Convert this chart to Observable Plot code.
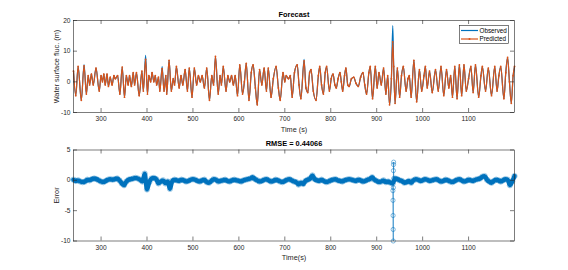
<!DOCTYPE html>
<html><head><meta charset="utf-8">
<script src="https://cdn.jsdelivr.net/npm/d3@7"></script>
<script src="https://cdn.jsdelivr.net/npm/@observablehq/plot@0.6"></script>
<style>
body{margin:0;background:#fff;}
#wrap{position:relative;width:568px;height:270px;font-family:"Liberation Sans",Arial,sans-serif;}
#wrap > svg{display:block;}
#legend{position:absolute;left:459px;top:25px;}
</style></head><body><div id="wrap"></div>
<script>
// ---------- data ----------
const xTicks = [300,400,500,600,700,800,900,1000,1100];
const yTicksTop = [-10,0,10,20];
const yTicksBottom = [-10,-5,0,5];

// water surface fluctuation, read at turning points (s, m)
const waveTime = [
240,245,250,257,263,268,272,275,279,283,
289,296,300,303,306,309,313,316,320,324,
328,331,336,341,346,351,355,359,362,366,
370,373,377,383,389,392,397,401,404,408,
411,415,418,421,425,428,433,437,441,443,
448,453,457,460,464,470,474,478,483,488,
492,498,503,508,512,516,520,525,530,536,
541,545,549,555,559,562,566,572,576,580,
584,588,592,597,602,608,612,616,622,627,
631,636,640,645,650,655,660,664,670,675,
681,686,690,696,700,703,708,712,716,721,
727,731,735,742,746,750,754,757,762,768,
773,776,780,784,788,791,797,801,805,809,
812,816,820,823,826,830,833,837,840,845,
850,855,860,865,870,874,878,883,886,891,
897,901,905,910,915,920,924,928,932,935,
937,940,945,950,954,958,964,968,971,975,
981,987,993,998,1003,1006,1010,1015,1021,1028,
1034,1040,1046,1052,1057,1061,1065,1070,1075,1080,
1085,1090,1095,1100,1105,1110,1115,1122,1127,1130,
1137,1143,1150,1157,1162,1166,1170,1177,1181,1185,
1189,1193,1197,1200];
const predicted = [
3.5,-4.5,5,-6,5.2,-4,2,-1,2.5,-1,
4.5,-3,2,0,2.5,-1,2.5,-1.5,1.5,-1,
2,1,2,-4,4.8,-5,2,-1,2,-1.5,
3,-1,3,-4.5,3.5,-3,7.3,-4,2,0,
3,0,2,-1,1.5,-3,4.3,-3,2,-4,
7,-3,1,-1,5,-2,2,-1,4,-3,
4.5,-5,4.5,-1,2,0,2,-2,4.5,-6,
2,-1,8.3,-4,2,-1,5,-3,2,0,
2,-1,2,-4.5,5.5,-4,0,6,-6,3,
5.5,-2,-7.5,4,-1,4.5,-3,4.5,-5,1,
5,-2,-6,3,0,2,1,2,-5,3,
5.5,-1,-5.5,6.8,-2,-3.5,3,4,-3,-6,
2,5,-1,-4,3,5,-3,1,2.5,-1,
-2,1,3,0,-3,2,4.5,-1,-1.5,1,
1.5,-0.5,-1.5,1.5,3,-1,-4,3,5,-5.5,
5,-2,3,-1,4.5,-4,2,-7.5,1,13,
5,-7,4.5,-5,2,5,-3,1,2,-5,
7,-6.5,4,-3,2,5,-2,3.5,-3.5,4,
-3,5,-4.5,4,-2,2,-5,5,-5.5,5.5,
-4.5,5.5,-3,1,5,-3.5,5.5,-5,2,5,
-3,4.5,-4.5,5,-3,2,5,-5.5,3,8,
0,-7,2,5];
// observed differs from predicted only at these peaks
const observedPeakTime = [263,397,433,742,935];
const observedPeakValue = [5.6,8.6,5.0,7.3,18.3];

// error, one reading every 5 s from 240 s
const errStart = 240, errStep = 5;
const errorValues = [
0.1,-0.1,0,-0.2,-0.3,-0.2,0.1,0,0.2,0.3,
0.2,0,-0.2,-0.3,-0.1,0.1,0.2,0.1,0.2,0.3,
0,-0.5,-0.8,-0.2,0.1,0.2,0.3,0.4,0.3,0.1,
-0.2,1.1,-1.5,-0.3,0.3,0.4,0.2,-0.5,-0.2,0,
-0.5,-0.2,-1.4,-0.1,0.1,0,-0.1,0.1,0,-0.2,
-0.1,0.1,0.2,0.1,-0.1,-0.2,0,0.1,-0.3,-0.4,
-0.1,0.2,0.1,-0.2,-0.1,0,0.1,-0.1,-0.2,0,
0.1,0,-0.1,-0.2,0,0.1,0.2,0.3,0.5,0.2,
0,-0.2,-0.1,0.1,0.2,0,-0.2,-0.1,0.1,0,
-0.2,-0.3,-0.1,0.1,0.2,0,-0.2,-0.3,-0.7,-0.4,
-0.6,-0.1,0.1,0.3,0.8,0.2,0,-0.1,0.1,-0.1,
-0.3,-0.2,0,0.1,0.2,0,-0.1,-0.2,0,0.1,
0.2,0.1,0,-0.1,0.1,0,-0.2,-0.1,0.1,0.2,
0.5,0.1,-0.1,-0.3,-0.2,0,-0.3,-0.2,-0.4,-0.5,
0.3,0.2,0,-0.1,-0.4,-0.3,-0.1,-0.4,0,0.2,
0.1,-0.1,0,0.2,0.1,-0.1,0,0.1,0.2,0,
-0.2,-0.1,0.1,0,-0.2,-0.3,-0.1,0.1,0.2,0,
-0.2,-0.1,0.1,0,-0.1,0.1,0.2,0.3,0.6,0.7,
0.1,-0.2,-0.4,-0.1,0.1,0,-0.2,0,0.2,0.1,
-0.8,-0.2,0.7];
// error spike samples near 936 s
const spikeTime = [935.3,935.5,935.7,935.9,936.1,936.3,936.5,936.7,936.9,937.1];
const spikeError = [-1.7,-3.3,-5.8,-8.1,-10,-1.2,1.6,2.6,3.0,0.3];

// ---------- build ----------
const BLUE = "#0072BD", ORANGE = "#D95319", INK = "#262626";
const font = '"Liberation Sans", Arial, sans-serif';
const W = 568, H = 135, ML = 73, MR = 54;
const fw = W - ML - MR;

const pred = waveTime.map((t, i) => ({t, v: predicted[i]}));
const obs = waveTime.map((t, i) => {
  const k = observedPeakTime.indexOf(t);
  return {t, v: k >= 0 ? observedPeakValue[k] : predicted[i]};
});
const errGrid = errorValues.map((e, i) => ({t: errStart + i * errStep, e}));
const err = errGrid
  .concat(spikeTime.map((t, i) => ({t, e: spikeError[i]})))
  .sort((a, b) => a.t - b.t);

function frameMarks(fh, yTicks, title, xLabel, yLabel) {
  return [
    Plot.frame({stroke: INK, strokeWidth: 0.6}),
    Plot.tickX(xTicks, {x: d => d, insetTop: fh - 4, stroke: INK, strokeWidth: 0.6}),
    Plot.tickX(xTicks, {x: d => d, insetBottom: fh - 4, stroke: INK, strokeWidth: 0.6}),
    Plot.tickY(yTicks, {y: d => d, insetRight: fw - 4, stroke: INK, strokeWidth: 0.6}),
    Plot.tickY(yTicks, {y: d => d, insetLeft: fw - 4, stroke: INK, strokeWidth: 0.6}),
    Plot.axisX({ticks: xTicks, tickSize: 0, tickPadding: 4, tickFormat: d => String(d), label: null, fontSize: 6.6, fill: INK}),
    Plot.axisY({ticks: yTicks, tickSize: 0, tickPadding: 3, tickFormat: d => String(d), label: null, fontSize: 6.6, fill: INK}),
    Plot.text([title], {frameAnchor: "top", lineAnchor: "middle", dy: -6, fontWeight: "bold", fontSize: 7.4, fill: "#000"}),
    Plot.text([xLabel], {frameAnchor: "bottom", lineAnchor: "middle", dy: 17, fontSize: 7.3, fill: INK}),
    Plot.text([yLabel], {frameAnchor: "left", textAnchor: "middle", lineAnchor: "middle", dx: -17, rotate: -90, fontSize: 7.3, fill: INK})
  ];
}

const upperChart = Plot.plot({
  width: W, height: H,
  marginTop: 20, marginBottom: 23, marginLeft: ML, marginRight: MR,
  style: {fontFamily: font, background: "transparent", overflow: "visible", color: INK},
  x: {domain: [240, 1200]},
  y: {domain: [-10, 20]},
  marks: [
    Plot.line(obs, {x: "t", y: "v", stroke: BLUE, strokeWidth: 1.2, curve: "monotone-x"}),
    Plot.line(pred, {x: "t", y: "v", stroke: ORANGE, strokeWidth: 1.2, curve: "monotone-x"}),
    Plot.dot(pred, {x: "t", y: "v", r: 0.9, fill: ORANGE}),
    ...frameMarks(92, yTicksTop, "Forecast", "Time (s)", "Water surface fluc. (m)")
  ]
});

const lowerChart = Plot.plot({
  width: W, height: H,
  marginTop: 14.5, marginBottom: 29.5, marginLeft: ML, marginRight: MR,
  style: {fontFamily: font, background: "transparent", overflow: "visible", color: INK},
  x: {domain: [240, 1200]},
  y: {domain: [-10, 5]},
  marks: [
    // dense overlapping markers of the reference read as a solid band
    Plot.dot(errGrid, {x: "t", y: "e", r: 2.7, stroke: BLUE, strokeWidth: 0.6, fill: "none", strokeOpacity: 0.6}),
    Plot.line(errGrid, {x: "t", y: "e", stroke: BLUE, strokeWidth: 4.4, curve: "monotone-x"}),
    Plot.line(err, {x: "t", y: "e", stroke: BLUE, strokeWidth: 0.8, strokeOpacity: 0.7}),
    Plot.dot(spikeTime.map((t, i) => ({t, e: spikeError[i]})), {x: "t", y: "e", r: 2.1, stroke: BLUE, strokeWidth: 0.7, fill: "none", strokeOpacity: 0.7}),
    ...frameMarks(91, yTicksBottom, "RMSE = 0.44066", "Time(s)", "Error")
  ]
});

const wrap = document.getElementById("wrap");
wrap.appendChild(upperChart);
wrap.appendChild(lowerChart);

// legend box (inside the upper axes)
const lg = d3.select(wrap).append("svg").attr("id", "legend")
  .attr("width", 50).attr("height", 19);
lg.append("rect").attr("x", 0.5).attr("y", 0.5).attr("width", 49).attr("height", 18)
  .attr("fill", "#fff").attr("stroke", INK).attr("stroke-width", 0.6);
const items = [{name: "Observed", c: BLUE, dot: false}, {name: "Predicted", c: ORANGE, dot: true}];
items.forEach((it, i) => {
  const y = 5.5 + i * 8.5;
  lg.append("line").attr("x1", 2).attr("x2", 19).attr("y1", y).attr("y2", y)
    .attr("stroke", it.c).attr("stroke-width", 1.2);
  if (it.dot) lg.append("circle").attr("cx", 10.5).attr("cy", y).attr("r", 1).attr("fill", it.c);
  lg.append("text").attr("x", 20.5).attr("y", y).attr("dy", "0.35em")
    .attr("font-size", 6.3).attr("font-family", font).attr("fill", "#000").text(it.name);
});
</script></body></html>
